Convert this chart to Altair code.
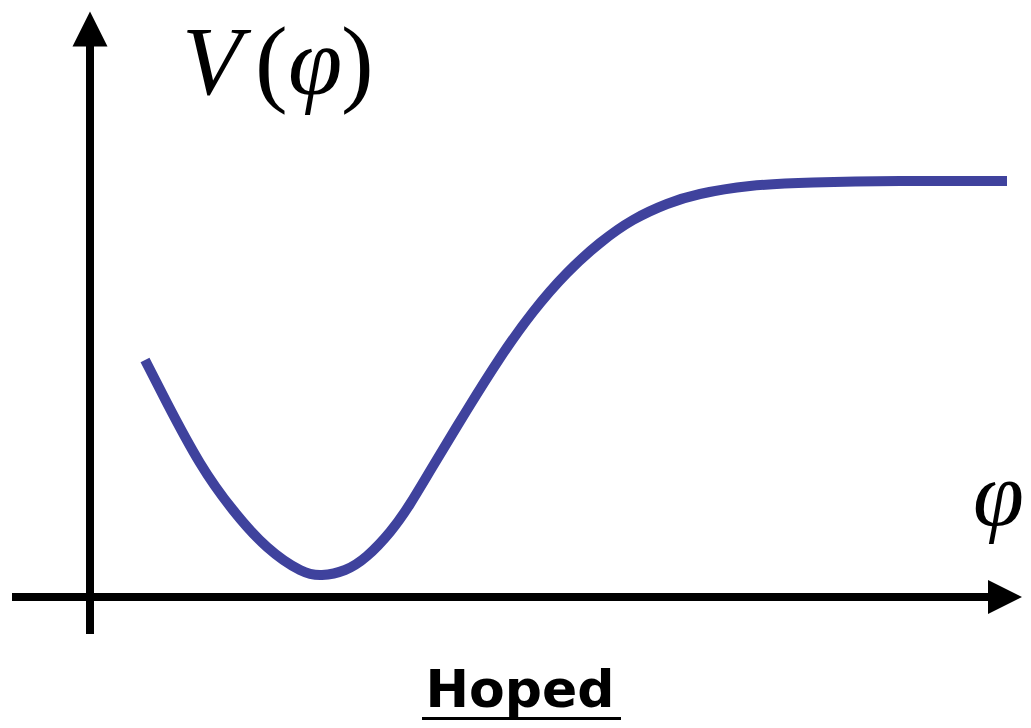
import altair as alt
import pandas as pd

# Curve V(phi) (phi to the right, V upward; origin where the axes cross)
phi = [0.55, 0.77, 1.10, 1.43, 1.77, 2.10, 2.32, 2.55, 2.77, 3.00, 3.20, 3.43,
       3.77, 4.10, 4.43, 4.77, 5.10, 5.43, 5.77, 6.10, 6.60, 7.23, 8.10, 9.17]
V = [2.37, 1.94, 1.34, 0.87, 0.50, 0.27, 0.22, 0.27, 0.41, 0.65, 0.93, 1.31,
     1.87, 2.39, 2.85, 3.24, 3.54, 3.77, 3.93, 4.03, 4.11, 4.145, 4.16, 4.16]

labels = ["V", "(", "φ", ")", "φ", "Hoped"]

xs = alt.Scale(domain=[-0.82, 9.33], nice=False, zero=False)
ys = alt.Scale(domain=[-1.23, 5.89], nice=False, zero=False)

curve_df = pd.DataFrame({"phi": phi, "V": V})
one = alt.Data(values=[{"k": 0}])

curve = alt.Chart(curve_df).mark_line(
    color="#3f429d", strokeWidth=10, interpolate="natural", strokeCap="butt"
).encode(
    x=alt.X("phi:Q", scale=xs, axis=None),
    y=alt.Y("V:Q", scale=ys, axis=None),
)

x_axis = alt.Chart(one).mark_rule(color="black", strokeWidth=8).encode(
    x=alt.XDatum(-0.78, scale=xs, axis=None),
    x2=alt.X2Datum(8.99),
    y=alt.YDatum(0, scale=ys, axis=None),
)
y_axis = alt.Chart(one).mark_rule(color="black", strokeWidth=8).encode(
    x=alt.XDatum(0, scale=xs, axis=None),
    y=alt.YDatum(-0.37, scale=ys, axis=None),
    y2=alt.Y2Datum(5.51),
)

up_arrow = alt.Chart(one).mark_point(
    shape="M-1,1L1,1L0,-1Z", filled=True, size=1225, color="black", opacity=1, strokeWidth=0
).encode(
    x=alt.XDatum(0, scale=xs, axis=None),
    y=alt.YDatum(5.68, scale=ys, axis=None),
)
right_arrow = alt.Chart(one).mark_point(
    shape="M-1,-1L1,0L-1,1Z", filled=True, size=1156, color="black", opacity=1, strokeWidth=0
).encode(
    x=alt.XDatum(9.15, scale=xs, axis=None),
    y=alt.YDatum(0, scale=ys, axis=None),
)


def txt(label, xv, yv, font, size, style="normal", weight="normal", align="left"):
    return alt.Chart(one).mark_text(
        text=label, font=font, fontSize=size, fontStyle=style, fontWeight=weight,
        align=align, baseline="alphabetic", color="black"
    ).encode(
        x=alt.XDatum(xv, scale=xs, axis=None),
        y=alt.YDatum(yv, scale=ys, axis=None),
    )


t_V = txt(labels[0], 0.92, 5.03, "Liberation Serif", 98, style="italic")
t_lp = txt(labels[1], 1.65, 5.03, "Liberation Serif", 98)
t_phi = txt(labels[2], 1.98, 5.03, "Liberation Serif", 98, style="italic")
t_rp = txt(labels[3], 2.51, 5.03, "Liberation Serif", 98)
t_phi_axis = txt(labels[4], 8.83, 0.72, "Liberation Serif", 92, style="italic")
t_title = txt(labels[5], 4.30, -1.10, "DejaVu Sans", 52, weight="bold", align="center")

underline = alt.Chart(one).mark_rule(color="black", strokeWidth=3).encode(
    x=alt.XDatum(3.32, scale=xs, axis=None),
    x2=alt.X2Datum(5.31),
    y=alt.YDatum(-1.215, scale=ys, axis=None),
)

chart = alt.layer(
    x_axis, y_axis, up_arrow, right_arrow, curve,
    t_V, t_lp, t_phi, t_rp, t_phi_axis, t_title, underline
).properties(
    width=1015, height=712,
    autosize=alt.AutoSizeParams(type="none"),
    padding=0,
).configure_view(strokeWidth=0)

chart.save("out.html", embed_options={"renderer": "svg", "actions": False})
